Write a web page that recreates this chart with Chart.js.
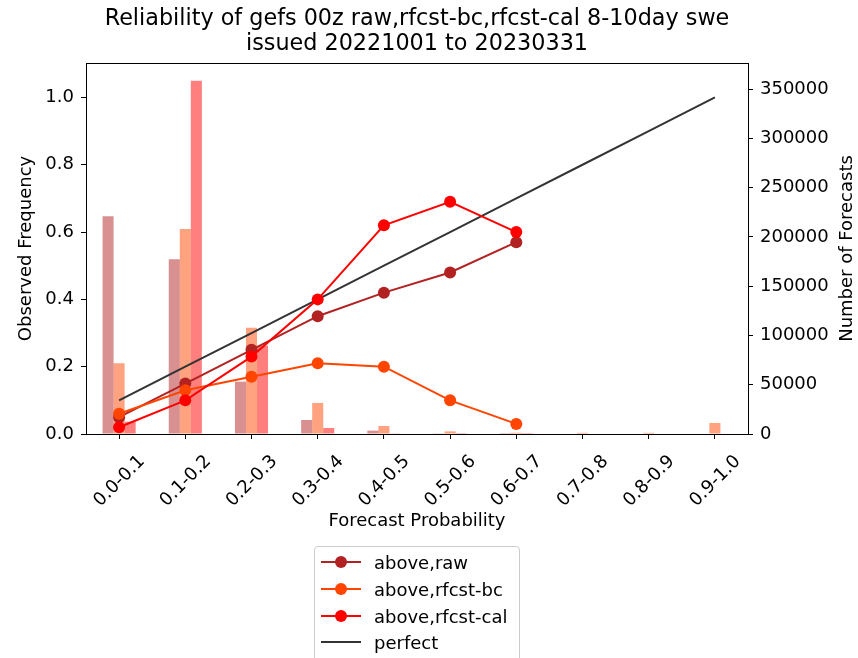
<!DOCTYPE html>
<html>
<head>
<meta charset="utf-8">
<script src="https://cdn.jsdelivr.net/npm/chart.js@4/dist/chart.umd.min.js"></script>
<style>
html,body{margin:0;padding:0;overflow:hidden;background:#fff;width:858px;height:658px;}
#wrap{position:relative;width:858px;height:658px;}
#c{position:absolute;left:0;top:0;}
#legend{position:absolute;left:314px;top:546px;width:204px;height:130px;border:1px solid #ccc;border-radius:4px;background:rgba(255,255,255,0.8);font-family:'DejaVu Sans';font-size:18px;color:#000;}
.row{position:absolute;left:0;height:26px;display:flex;align-items:center;white-space:nowrap;}
.row svg{margin-left:6px;display:block;}
.row span{margin-left:13px;}
</style>
</head>
<body>
<div id="wrap">
<canvas id="c" width="858" height="658"></canvas>
<div id="legend"></div>
</div>
<script>
// ---- data ----
const titleLines = ['Reliability of gefs 00z raw,rfcst-bc,rfcst-cal 8-10day swe', 'issued 20221001 to 20230331'];
const categories = ['0.0-0.1','0.1-0.2','0.2-0.3','0.3-0.4','0.4-0.5','0.5-0.6','0.6-0.7','0.7-0.8','0.8-0.9','0.9-1.0'];
const seriesNames = ['above,raw', 'above,rfcst-bc', 'above,rfcst-cal', 'perfect'];
const rawFreq = [0.05, 0.15, 0.25, 0.35, 0.42, 0.48, 0.57, null, null, null];
const bcFreq  = [0.06, 0.13, 0.17, 0.21, 0.20, 0.10, 0.03, null, null, null];
const calFreq = [0.02, 0.10, 0.23, 0.40, 0.62, 0.69, 0.60, null, null, null];
const perfectFreq = [0.1, 0.2, 0.3, 0.4, 0.5, 0.6, 0.7, 0.8, 0.9, 1.0];
const rawCount = [221000, 177300, 53100, 14200, 3400, 300, 100, 0, 0, 0];
const bcCount  = [71800, 208100, 107900, 31500, 8100, 2700, 1300, 1200, 1200, 11200];
const calCount = [12500, 358400, 89600, 6100, 700, 100, 50, 0, 0, 0];
const leftTicks = [0.0, 0.2, 0.4, 0.6, 0.8, 1.0];
const rightTicks = [0, 50000, 100000, 150000, 200000, 250000, 300000, 350000];
const leftMax = 1.1025;
const rightMax = 376500;

// ---- styles ----
const lineColors = ['#b22222', '#ff4500', '#ff0000', '#333333'];
const barColors = ['rgba(178,34,34,0.5)', 'rgba(255,69,0,0.5)', 'rgba(255,0,0,0.5)'];
const FONT = 'DejaVu Sans';
Chart.defaults.font.family = FONT;
Chart.defaults.color = '#000';

const frame = {
  id: 'frame',
  afterDraw(chart) {
    const {ctx, chartArea: a} = chart;
    ctx.save();
    ctx.strokeStyle = '#000';
    ctx.lineWidth = 1;
    ctx.strokeRect(Math.round(a.left) + 0.5, Math.round(a.top) + 0.5, Math.round(a.right - a.left), Math.round(a.bottom - a.top));
    // right axis title (reads bottom-to-top)
    ctx.fillStyle = '#000';
    ctx.font = '18px "' + FONT + '"';
    ctx.translate(847, (a.top + a.bottom) / 2);
    ctx.rotate(-Math.PI / 2);
    ctx.textAlign = 'center';
    ctx.textBaseline = 'middle';
    ctx.fillText('Number of Forecasts', 0, 0);
    ctx.restore();
  }
};

const tickGrid = {display: true, drawOnChartArea: false, drawTicks: true, tickLength: 5, color: '#000', lineWidth: 1, offset: false};

function lineDs(label, data, color, order, withPoints) {
  return {
    type: 'line', label, data, yAxisID: 'y', order,
    borderColor: color, backgroundColor: color, borderWidth: 2,
    pointRadius: withPoints ? 6 : 0, pointBackgroundColor: color, pointBorderColor: color, pointBorderWidth: 0,
    pointHoverRadius: withPoints ? 6 : 0, tension: 0, fill: false, spanGaps: false
  };
}
function barDs(label, data, color) {
  return {
    type: 'bar', label, data, yAxisID: 'y2', order: 5,
    backgroundColor: color, borderWidth: 0, categoryPercentage: 0.5, barPercentage: 1.0
  };
}

new Chart(document.getElementById('c'), {
  type: 'bar',
  data: {
    labels: categories,
    datasets: [
      barDs(seriesNames[0] + ' count', rawCount, barColors[0]),
      barDs(seriesNames[1] + ' count', bcCount, barColors[1]),
      barDs(seriesNames[2] + ' count', calCount, barColors[2]),
      lineDs(seriesNames[0], rawFreq, lineColors[0], 3, true),
      lineDs(seriesNames[1], bcFreq, lineColors[1], 2, true),
      lineDs(seriesNames[2], calFreq, lineColors[2], 1, true),
      lineDs(seriesNames[3], perfectFreq, lineColors[3], 4, false)
    ]
  },
  options: {
    responsive: false,
    animation: false,
    devicePixelRatio: 1,
    layout: {padding: {left: 16, right: 0, top: 0, bottom: 126}},
    plugins: {
      legend: {display: false},
      tooltip: {enabled: false},
      title: {
        display: true, text: titleLines, fullSize: false, color: '#000',
        font: {size: 22.3, weight: 'normal', family: FONT, lineHeight: 1.12},
        padding: {top: 7, bottom: 6}
      }
    },
    scales: {
      x: {
        type: 'category', offset: true,
        grid: tickGrid, border: {display: false},
        ticks: {minRotation: 45, maxRotation: 45, autoSkip: false, labelOffset: 23, padding: 12, font: {size: 18}, color: '#000'},
        title: {display: true, text: 'Forecast Probability', font: {size: 18}, color: '#000', padding: {top: 0, bottom: 0}},
        afterFit(s) { s.height = 98; }
      },
      y: {
        position: 'left', min: 0, max: leftMax,
        grid: tickGrid, border: {display: false},
        afterBuildTicks(s) { s.ticks = leftTicks.map(v => ({value: v})); },
        ticks: {padding: 7, font: {size: 18}, color: '#000', callback: v => Number(v).toFixed(1)},
        title: {display: true, text: 'Observed Frequency', font: {size: 18}, color: '#000', padding: {top: 0, bottom: 0}},
        afterFit(s) { s.width = 70; }
      },
      y2: {
        position: 'right', min: 0, max: rightMax,
        grid: tickGrid, border: {display: false},
        afterBuildTicks(s) { s.ticks = rightTicks.map(v => ({value: v})); },
        ticks: {padding: 7, font: {size: 18}, color: '#000', callback: v => String(v)},
        afterFit(s) { s.width = 110; }
      }
    }
  },
  plugins: [frame]
});

// HTML legend built from the series names/colours
const legendEl = document.getElementById('legend');
const rowTops = [2, 29, 56, 82];
seriesNames.forEach((name, i) => {
  const row = document.createElement('div');
  row.className = 'row';
  row.style.top = rowTops[i] + 'px';
  const marker = i < 3 ? `<circle cx="20" cy="13" r="6" fill="${lineColors[i]}"/>` : '';
  row.innerHTML = `<svg width="40" height="26"><line x1="0" y1="13" x2="40" y2="13" stroke="${lineColors[i]}" stroke-width="2"/>${marker}</svg><span>${name}</span>`;
  legendEl.appendChild(row);
});
</script>
</body>
</html>
